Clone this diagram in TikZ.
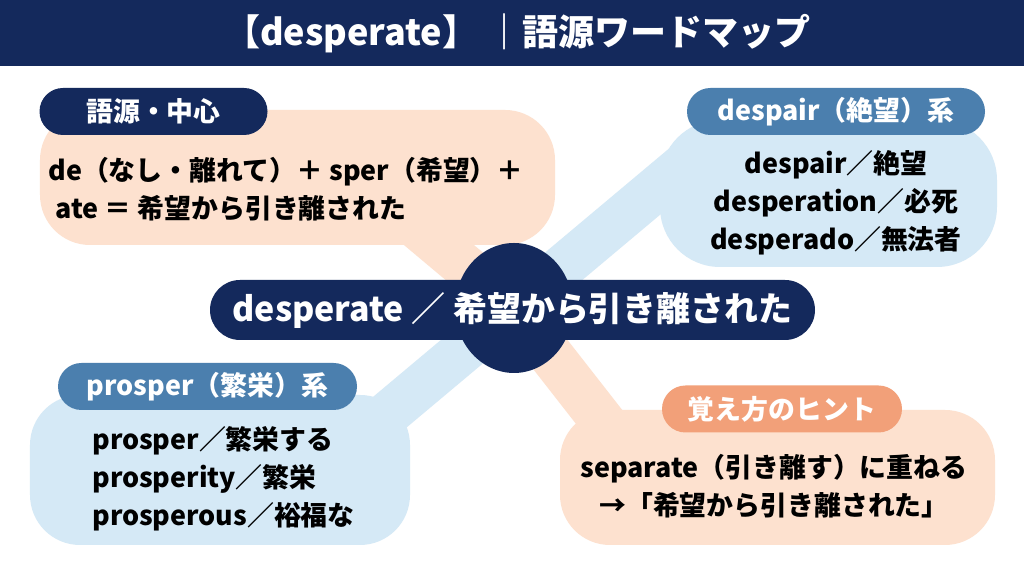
\documentclass[tikz,border=0pt]{standalone}
\usepackage{fontspec}
\setmainfont{Noto Sans CJK JP}
\usetikzlibrary{shapes.geometric}

\definecolor{navy}{HTML}{14295C}
\definecolor{steel}{HTML}{4B7FAE}
\definecolor{skyfill}{HTML}{D5E9F6}
\definecolor{peachfill}{HTML}{FDE1CF}
\definecolor{coral}{HTML}{F2A079}

\begin{document}
\begin{tikzpicture}
\tikzset{bubble/.style = {shape=rectangle,rounded corners=1cm,inner sep=0pt}}
\tikzset{tag/.style = {shape=rectangle,rounded corners=0.47cm,minimum height=0.94cm,inner sep=0pt,text=white,font=\bfseries\fontsize{15.3}{18}\selectfont}}
\tikzset{body/.style = {inner sep=0pt,font=\bfseries\fontsize{15.3}{21.6}\selectfont}}
\tikzset{band/.style = {-,line width=0.9cm}}
\fill[white] (0,0) rectangle (20.48,11.44);
\useasboundingbox (0,0) rectangle (20.48,11.44);
% title bar
\fill[navy] (0,10.12) rectangle (20.48,11.44);
\node[text=white,font=\bfseries\fontsize{20.5}{24}\selectfont] (title) at (10.35,10.78) {【desperate】 ｜語源ワードマップ};
% bands
\coordinate (hubc) at (10.28,5.28);
\path (hubc) ++(140:4cm) coordinate (endTL);
\path (hubc) ++(40:4.8cm) coordinate (endTR);
\path (hubc) ++(220:4cm) coordinate (endBL);
\path (hubc) ++(-52:4cm) coordinate (endBR);
\draw[band,peachfill] (hubc) to (endTL);
\draw[band,skyfill] (hubc) to (endTR);
\draw[band,skyfill] (hubc) to (endBL);
\draw[band,peachfill] (hubc) to (endBR);
% bubbles
\node[bubble,fill=peachfill,minimum width=10.3cm,minimum height=2.7cm] (origin) at (5.95,7.89) {};
\node[bubble,fill=skyfill,rounded corners=1.2cm,minimum width=6.74cm,minimum height=2.94cm] (despair) at (16.57,7.57) {};
\node[bubble,fill=skyfill,minimum width=7.6cm,minimum height=3cm] (prosper) at (4.4,2.04) {};
\node[bubble,fill=peachfill,minimum width=8.7cm,minimum height=2.7cm] (hint) at (15.55,1.89) {};
% tags
\node[tag,fill=navy,minimum width=4.56cm] (origintag) at (3.07,9.21) {語源・中心};
\node[tag,fill=steel,minimum width=5.96cm] (despairtag) at (16.72,9.21) {despair（絶望）系};
\node[tag,fill=steel,minimum width=5.98cm] (prospertag) at (4.15,3.71) {prosper（繁栄）系};
\node[tag,fill=coral,minimum width=4.8cm] (hinttag) at (15.64,3.26) {覚え方のヒント};
% texts
\node[body,anchor=west,align=left] (origintext) at (0.96,7.66) {de（なし・離れて）＋ sper（希望）＋\\\hspace*{0.14cm}ate ＝ 希望から引き離された};
\node[body,align=center] (despairtext) at (16.72,7.38) {despair／絶望\\desperation／必死\\desperado／無法者};
\node[body,anchor=west,align=left] (prospertext) at (1.84,1.86) {prosper／繁栄する\\prosperity／繁栄\\prosperous／裕福な};
\node[body,align=center] (hinttext) at (15.48,1.71) {separate（引き離す）に重ねる\\→「希望から引き離された」};
% centre
\node[ellipse,fill=navy,minimum width=2.36cm,minimum height=2.6cm] (hub) at (hubc) {};
\node[fill=navy,rounded corners=0.6cm,minimum width=12.1cm,minimum height=1.2cm,text=white,font=\bfseries\fontsize{19.3}{23}\selectfont] (core) at (10.25,5.24) {desperate ／ 希望から引き離された};
\end{tikzpicture}
\end{document}
